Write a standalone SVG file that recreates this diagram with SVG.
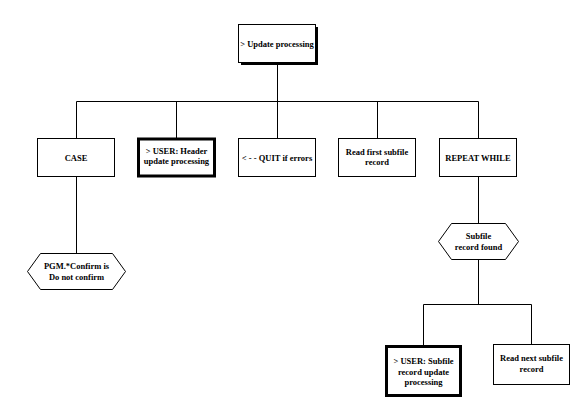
<svg xmlns="http://www.w3.org/2000/svg" width="580" height="403" viewBox="0 0 580 403">
<style>
.bx{fill:#fff;stroke:#000;stroke-width:1}
.tk{fill:#fff;stroke:#000;stroke-width:3}
.ln{fill:none;stroke:#000;stroke-width:1}
text{font-family:"Liberation Serif","Times New Roman",serif;font-size:8.5px;font-weight:bold;fill:#000;text-anchor:middle}
</style>
<rect width="580" height="403" fill="#fff"/>
<g id="connectors">
<path class="ln" d="M277.5 62V101.5M76.5 101.5H478.5M76.5 101.5V138M176.5 101.5V138M277.5 101.5V138M377.5 101.5V138M478.5 101.5V138"/>
<path class="ln" d="M76.5 177V253"/>
<path class="ln" d="M478.5 177V223M478.5 260V304.5M423.5 304.5H531.5M423.5 304.5V345M531.5 304.5V344"/>
</g>
<g id="n_update">
<rect x="241" y="27" width="77" height="38" fill="#000"/>
<rect class="bx" x="238.5" y="24.5" width="77" height="38"/>
<text x="277" y="46.5">&gt; Update processing</text>
</g>
<g id="n_case">
<rect class="bx" x="37.5" y="138.5" width="77" height="38"/>
<text x="76" y="160.5">CASE</text>
</g>
<g id="n_user_header">
<rect class="tk" x="138.5" y="139" width="76" height="37"/>
<text x="176.5" y="154">&gt; USER: Header</text>
<text x="176.5" y="164">update processing</text>
</g>
<g id="n_quit">
<rect class="bx" x="238.5" y="138.5" width="77" height="38"/>
<text x="277" y="160.5">&lt; - - QUIT if errors</text>
</g>
<g id="n_read_first">
<rect class="bx" x="338.5" y="138.5" width="77" height="38"/>
<text x="377" y="155">Read first subfile</text>
<text x="377" y="165">record</text>
</g>
<g id="n_repeat">
<rect class="bx" x="439.5" y="138.5" width="77" height="38"/>
<text x="478" y="160.5">REPEAT WHILE</text>
</g>
<g id="n_pgm">
<polygon class="bx" points="27.5,271.5 40.5,253.5 112.5,253.5 125.5,271.5 112.5,289.5 40.5,289.5"/>
<text x="76.5" y="269">PGM.*Confirm is</text>
<text x="76.5" y="279.5">Do not confirm</text>
</g>
<g id="n_subfile_found">
<polygon class="bx" points="438.5,241.5 451.5,223.5 505.5,223.5 518.5,241.5 505.5,259.5 451.5,259.5"/>
<text x="478.5" y="239">Subfile</text>
<text x="478.5" y="249.5">record found</text>
</g>
<g id="n_user_subfile">
<rect class="tk" x="386.5" y="346.5" width="74" height="49"/>
<text x="423.5" y="364">&gt; USER: Subfile</text>
<text x="423.5" y="374.5">record update</text>
<text x="423.5" y="385">processing</text>
</g>
<g id="n_read_next">
<rect class="bx" x="493.5" y="344.5" width="76" height="40"/>
<text x="531.5" y="361">Read next subfile</text>
<text x="531.5" y="371.5">record</text>
</g>
</svg>
